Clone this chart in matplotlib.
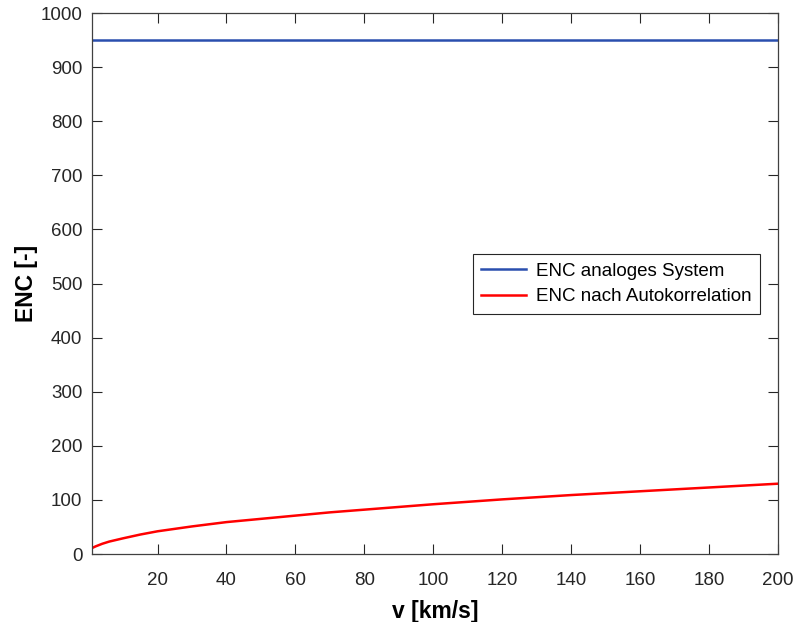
import matplotlib
matplotlib.use('Agg')
import matplotlib.pyplot as plt

plt.rcParams['font.family'] = ['Liberation Sans', 'DejaVu Sans']

# values
v = [1, 2, 4, 6, 10, 15, 20, 30, 40, 50, 60, 70, 80, 90, 100,
     120, 140, 160, 180, 200]
enc_auto = [11, 14, 19, 23, 29, 36, 42, 51, 59, 65, 71, 77, 82, 87, 92,
            101, 109, 116, 123, 130]
enc_analog = [950, 950]
v_analog = [1, 200]

xticks = list(range(20, 201, 20))
yticks = list(range(0, 1001, 100))

fig = plt.figure(figsize=(7.98, 6.22), dpi=100)
ax = fig.add_axes([0.1153, 0.1093, 0.8597, 0.8697])

ax.plot(v_analog, enc_analog, color='#2a4fae', lw=1.8, label='ENC analoges System')
ax.plot(v, enc_auto, color='#ff0000', lw=1.8, label='ENC nach Autokorrelation')

ax.set_xlim(1, 200)
ax.set_ylim(0, 1000)
ax.set_xticks(xticks)
ax.set_yticks(yticks)
ax.tick_params(direction='in', length=7, width=0.8, colors='#262626',
               labelsize=13.5, top=True, right=True)
ax.tick_params(axis='x', pad=13)
ax.tick_params(axis='y', pad=7)
for s in ax.spines.values():
    s.set_color('#404040')
    s.set_linewidth(0.9)

ax.set_xlabel('v [km/s]', fontsize=16.5, fontweight='bold', labelpad=8)
ax.set_ylabel('ENC [-]', fontsize=16.5, fontweight='bold', labelpad=2)

leg = ax.legend(loc='upper left', bbox_to_anchor=(0.555, 0.5545), fontsize=13.5,
                fancybox=False, edgecolor='#262626', framealpha=1,
                handlelength=2.4, handletextpad=0.5, borderpad=0.45,
                labelspacing=0.45, borderaxespad=0)
leg.get_frame().set_linewidth(0.8)

fig.savefig('out.png', dpi=100)
plt.close()
